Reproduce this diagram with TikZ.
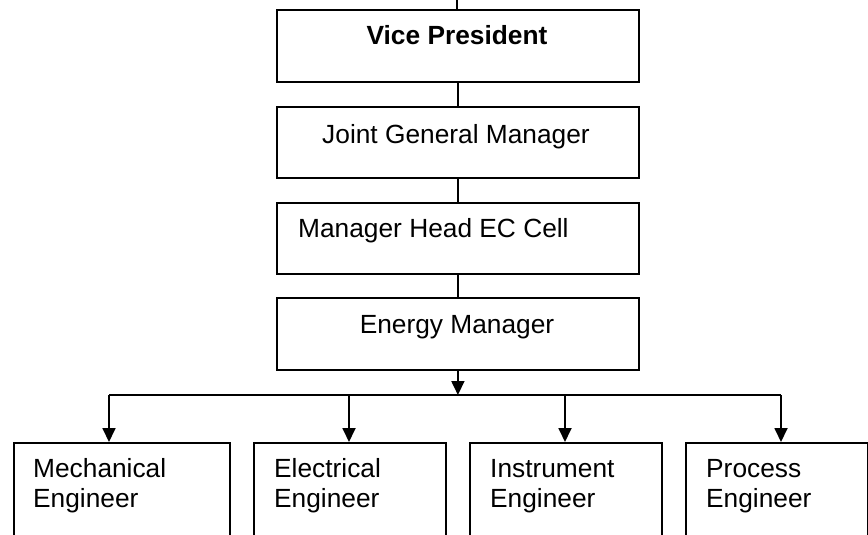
\documentclass[tikz,border=0pt]{standalone}
\usepackage{fontspec}
\setmainfont{Liberation Sans}
\usetikzlibrary{arrows.meta}
\begin{document}
\begin{tikzpicture}[x=1pt,y=-1pt,
  box/.style={draw=black,line width=1.8pt,rectangle,inner sep=0pt,anchor=north west},
  lbl/.style={inner sep=0pt,font=\fontsize{26.3}{30}\selectfont},
  conn/.style={line width=1.8pt},
  arr/.style={line width=1.8pt,-{Triangle[length=14pt,width=13pt]}}]
\useasboundingbox (0,0) rectangle (868,535);
\clip (0,0) rectangle (868,535);
% top chain
\node[box,minimum width=362pt,minimum height=72pt] (vp) at (276,9) {};
\node[box,minimum width=362pt,minimum height=71pt] (jgm) at (276,106) {};
\node[box,minimum width=362pt,minimum height=71pt] (mh) at (276,202) {};
\node[box,minimum width=362pt,minimum height=72pt] (em) at (276,297) {};
\node[lbl,anchor=base,font=\fontsize{26.3}{30}\selectfont\bfseries] (vpt) at (457,45) {Vice President};
\node[lbl,anchor=base] (jgmt) at (456,143) {Joint General Manager};
\node[lbl,anchor=base west] (mht) at (298,237) {Manager Head EC Cell};
\node[lbl,anchor=base] (emt) at (457,333) {Energy Manager};
% bottom boxes (cut by the page edge)
\node[box,minimum width=216pt,minimum height=120pt] (mech) at (13,442) {};
\node[box,minimum width=192pt,minimum height=120pt] (elec) at (253,442) {};
\node[box,minimum width=192pt,minimum height=120pt] (instr) at (469,442) {};
\node[box,minimum width=182pt,minimum height=120pt] (proc) at (685,442) {};
\node[lbl,anchor=base west,align=left] (mecht) at (33,507) {Mechanical\\Engineer};
\node[lbl,anchor=base west,align=left] (elect) at (274,507) {Electrical\\Engineer};
\node[lbl,anchor=base west,align=left] (instrt) at (490,507) {Instrument\\Engineer};
\node[lbl,anchor=base west,align=left] (proct) at (706,507) {Process\\Engineer};
% connectors
\coordinate (top) at (457,0);
\coordinate (bus) at (457,395);
\coordinate (busL) at (109,395);
\coordinate (busR) at (781,395);
\coordinate (busE) at (349,395);
\coordinate (busI) at (565,395);
\draw[conn] (top) -- (top |- vp.north);
\draw[conn] (vp.south) -- (vp.south |- jgm.north);
\draw[conn] (jgm.south) -- (jgm.south |- mh.north);
\draw[conn] (mh.south) -- (mh.south |- em.north);
\draw[arr] (em.south) -- (em.south |- bus);
\draw[conn] (busL) -- (busR);
\draw[arr] (busL) -- (busL |- mech.north);
\draw[arr] (busE) -- (busE |- elec.north);
\draw[arr] (busI) -- (busI |- instr.north);
\draw[arr] (busR) -- (busR |- proc.north);
\end{tikzpicture}
\end{document}
